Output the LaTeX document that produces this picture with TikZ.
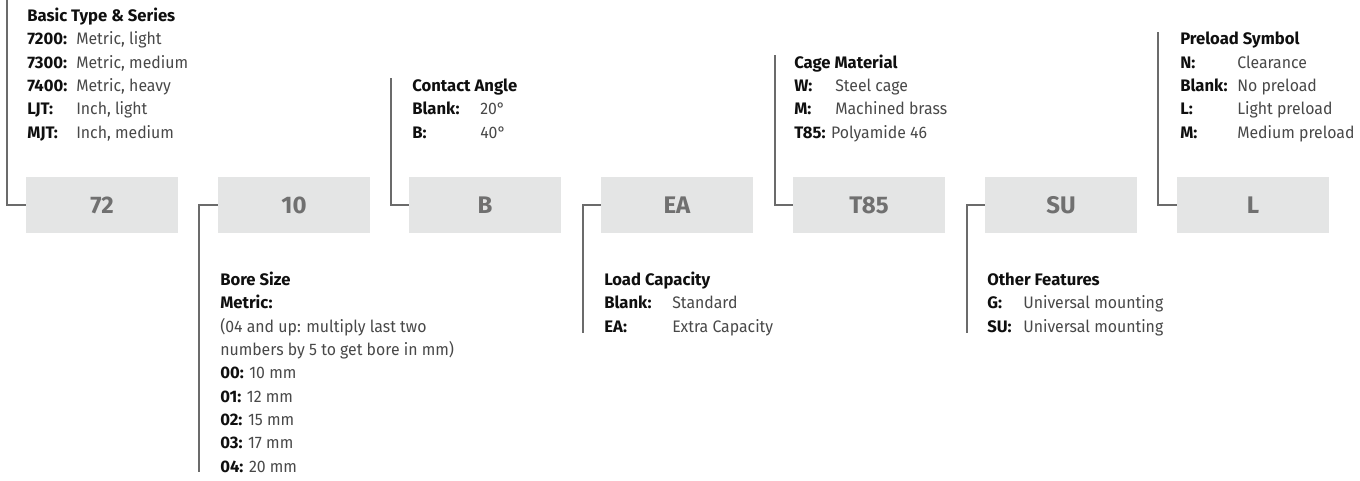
\documentclass[tikz,border=0pt]{standalone}
\usepackage{fontspec}
\setmainfont{Fira Sans}[UprightFeatures={FakeStretch=0.95}]
\definecolor{boxgray}{RGB}{228,229,229}
\definecolor{codegray}{RGB}{112,112,112}
\definecolor{linegray}{RGB}{107,107,107}
\definecolor{valgray}{RGB}{72,72,72}
\definecolor{keyblack}{RGB}{15,15,15}
\newcommand{\keyword}[1]{\textcolor{keyblack}{\textbf{#1}}}

\begin{document}
\begin{tikzpicture}[x=0.75pt,y=-0.75pt]
\tikzstyle{code}=[fill=boxgray,minimum width=114pt,minimum height=42pt,inner sep=0,font=\bfseries\fontsize{18}{18}\selectfont,text=codegray]
\tikzstyle{info}=[inner sep=0,font=\fontsize{12.5}{17.5}\selectfont,text=valgray]
\tikzstyle{link}=[draw=linegray,line width=1.5pt]
\useasboundingbox (0,0) rectangle (1360,481);
% code boxes
\node[code] (c72) at (102,205) {72};
\node[code] (c10) at (294,205) {10};
\node[code] (cB) at (485,205) {B};
\node[code] (cEA) at (677,205) {EA};
\node[code] (cT85) at (869,205) {T85};
\node[code] (cSU) at (1061,205) {SU};
\node[code] (cL) at (1253,205) {L};
% descriptions above
\node[info,anchor=south west] (s72) at (27,145.5) {\begin{tabular}{@{}p{36.75pt}@{}l@{}}
\multicolumn{2}{@{}l@{}}{\keyword{Basic Type \& Series}}\\
\keyword{7200:} & Metric, light\\
\keyword{7300:} & Metric, medium\\
\keyword{7400:} & Metric, heavy\\
\keyword{LJT:} & Inch, light\\
\keyword{MJT:} & Inch, medium
\end{tabular}};
\node[info,anchor=south west] (sB) at (412,145.5) {\begin{tabular}{@{}p{51pt}@{}l@{}}
\multicolumn{2}{@{}l@{}}{\keyword{Contact Angle}}\\
\keyword{Blank:} & 20°\\
\keyword{B:} & 40°
\end{tabular}};
\node[info,anchor=south west] (sT85) at (794,145.5) {\begin{tabular}{@{}p{30.75pt}@{}l@{}}
\multicolumn{2}{@{}l@{}}{\keyword{Cage Material}}\\
\keyword{W:} & Steel cage\\
\keyword{M:} & Machined brass\\
\multicolumn{2}{@{}l@{}}{\keyword{T85:} Polyamide 46}
\end{tabular}};
\node[info,anchor=south west] (sL) at (1180,145.5) {\begin{tabular}{@{}p{42.75pt}@{}l@{}}
\multicolumn{2}{@{}l@{}}{\keyword{Preload Symbol}}\\
\keyword{N:} & Clearance\\
\keyword{Blank:} & No preload\\
\keyword{L:} & Light preload\\
\keyword{M:} & Medium preload
\end{tabular}};
% descriptions below
\node[info,anchor=north west] (s10) at (220,269) {\begin{tabular}{@{}l@{}}
\keyword{Bore Size}\\
\keyword{Metric:}\\
(04 and up: multiply last two\\
numbers by 5 to get bore in mm)\\
\keyword{00:} 10 mm\\
\keyword{01:} 12 mm\\
\keyword{02:} 15 mm\\
\keyword{03:} 17 mm\\
\keyword{04:} 20 mm
\end{tabular}};
\node[info,anchor=north west] (sEA) at (604,269) {\begin{tabular}{@{}p{51pt}@{}l@{}}
\multicolumn{2}{@{}l@{}}{\keyword{Load Capacity}}\\
\keyword{Blank:} & Standard\\
\keyword{EA:} & Extra Capacity
\end{tabular}};
\node[info,anchor=north west] (sSU) at (987,269) {\begin{tabular}{@{}p{27pt}@{}l@{}}
\multicolumn{2}{@{}l@{}}{\keyword{Other Features}}\\
\keyword{G:} & Universal mounting\\
\keyword{SU:} & Universal mounting
\end{tabular}};
% line ends
\coordinate (e72) at (7,0);
\coordinate (e10) at (199,472);
\coordinate (eB) at (391,78);
\coordinate (eEA) at (583,333);
\coordinate (eT85) at (775,55);
\coordinate (eSU) at (967,333);
\coordinate (eL) at (1158,32);
\draw[link] (c72.west) -| (e72);
\draw[link] (c10.west) -| (e10);
\draw[link] (cB.west) -| (eB);
\draw[link] (cEA.west) -| (eEA);
\draw[link] (cT85.west) -| (eT85);
\draw[link] (cSU.west) -| (eSU);
\draw[link] (cL.west) -| (eL);
\end{tikzpicture}
\end{document}
